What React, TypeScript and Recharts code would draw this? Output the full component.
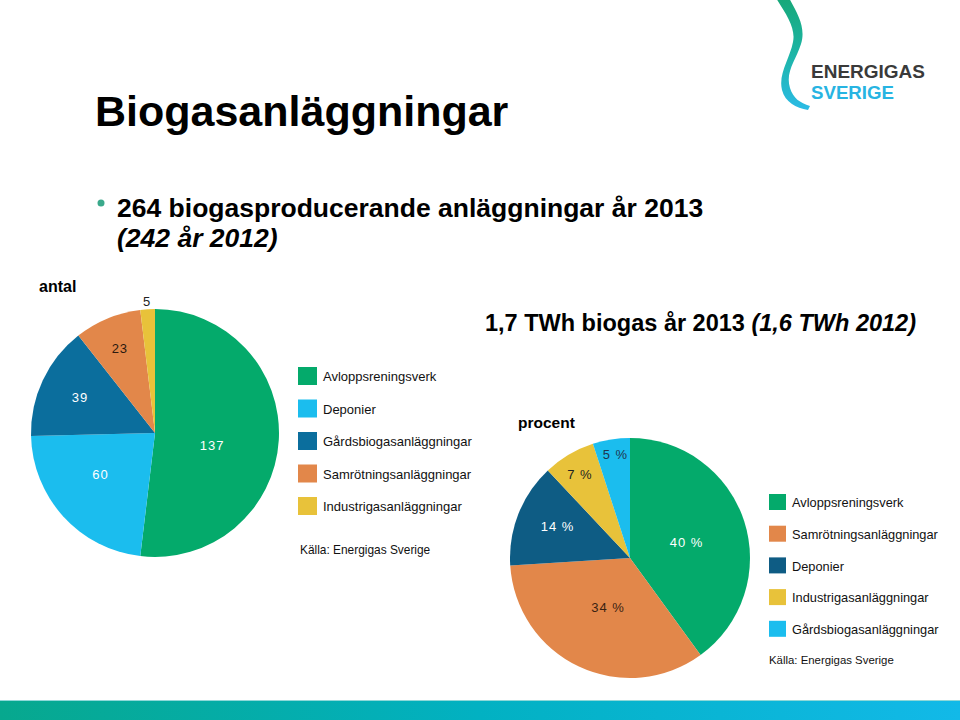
import { PieChart, Pie, Cell } from "recharts"

// antal (number of plants, 2013)
const antalNames = [
  "Avloppsreningsverk",
  "Deponier",
  "Gårdsbiogasanläggningar",
  "Samrötningsanläggningar",
  "Industrigasanläggningar",
]
const antalValues = [137, 60, 39, 23, 5]

// procent (share of produced biogas, 2013)
const procentNames = [
  "Avloppsreningsverk",
  "Samrötningsanläggningar",
  "Deponier",
  "Industrigasanläggningar",
  "Gårdsbiogasanläggningar",
]
const procentValues = [40, 34, 14, 7, 5]

const antalColors = ["#04aa6b", "#1bbdee", "#0b6e9d", "#e2874a", "#e8c23a"]
const procentColors = ["#04aa6b", "#e2874a", "#0e5c84", "#e8c23a", "#1bbdee"]

// label look: [radius factor, angle offset, colour]
const antalLabelStyle: [number, number, string][] = [
  [0.47, -8.5, "#ffffff"],
  [0.55, -5.3, "#ffffff"],
  [0.67, -0.4, "#ffffff"],
  [0.74, 0, "#2b1a10"],
  [1.06, 0, "#222222"],
]
const procentLabelStyle: [number, number, string][] = [
  [0.49, -2.3, "#ffffff"],
  [0.45, 1.2, "#3a2212"],
  [0.66, -2.1, "#ffffff"],
  [0.81, 0.4, "#222222"],
  [0.875, -1, "#1f3550"],
]

const FONT = "'Liberation Sans', Arial, Helvetica, sans-serif"
const RAD = Math.PI / 180

function makeLabel(style: [number, number, string][], suffix: string) {
  return (props: any) => {
    const { cx, cy, midAngle, outerRadius, index, value } = props
    const [f, off, color] = style[index]
    const a = (midAngle + off) * RAD
    const r = outerRadius * f
    const x = cx + r * Math.cos(-a)
    const y = cy + r * Math.sin(-a)
    return (
      <text
        x={x}
        y={y}
        fill={color}
        textAnchor="middle"
        dominantBaseline="central"
        fontFamily={FONT}
        fontSize={13}
        letterSpacing={1}
      >
        {value}
        {suffix}
      </text>
    )
  }
}

function LegendBlock({ names, colors, x, y, step, box, fontSize, sourceY, sourceX, sourceSize }: any) {
  return (
    <g fontFamily={FONT} fill="#111">
      {names.map((n: string, i: number) => (
        <g key={n}>
          <rect x={x} y={y + i * step} width={box} height={box - 1} fill={colors[i]} />
          <text x={x + box + 6} y={y + i * step + box / 2 + fontSize * 0.36} fontSize={fontSize}>
            {n}
          </text>
        </g>
      ))}
      <text x={sourceX} y={sourceY} fontSize={sourceSize}>
        Källa: Energigas Sverige
      </text>
    </g>
  )
}

export default function App() {
  const antalData = antalNames.map((name, i) => ({ name, value: antalValues[i] }))
  const procentData = procentNames.map((name, i) => ({ name, value: procentValues[i] }))

  return (
    <div
      style={{
        position: "absolute",
        left: 0,
        top: 0,
        width: 960,
        height: 720,
        background: "#fff",
        overflow: "hidden",
        fontFamily: FONT,
      }}
    >
      <svg width={960} height={720} style={{ position: "absolute", left: 0, top: 0 }}>
        <defs>
          <linearGradient id="bar" x1="0" y1="0" x2="1" y2="0">
            <stop offset="0" stopColor="#07a88e" />
            <stop offset="0.5" stopColor="#02b1c2" />
            <stop offset="1" stopColor="#12b9e8" />
          </linearGradient>
          <linearGradient id="swoosh" x1="0" y1="0" x2="0" y2="1">
            <stop offset="0" stopColor="#17a878" />
            <stop offset="0.5" stopColor="#1db5a6" />
            <stop offset="1" stopColor="#2bbbe6" />
          </linearGradient>
        </defs>

        {/* logo */}
        <path
          d="M776 -2 L 789 -2 C 798 14, 806 28, 801 44 C 796 60, 785 72, 790 88 C 793 98, 800 103, 810 106 L 808 110 C 796 108, 785 102, 782 90 C 778 74, 790 58, 793 42 C 796 28, 786 14, 776 -2 Z"
          fill="url(#swoosh)"
        />
        <text x={811} y={78} fontFamily={FONT} fontWeight="bold" fontSize={18.5} fill="#3a3a3a" textLength={114} lengthAdjust="spacingAndGlyphs">
          ENERGIGAS
        </text>
        <text x={811} y={99} fontFamily={FONT} fontWeight="bold" fontSize={18.5} fill="#27b4e2" textLength={83} lengthAdjust="spacingAndGlyphs">
          SVERIGE
        </text>

        {/* headings */}
        <text x={95} y={126} fontSize={43} fontWeight="bold" fill="#000">
          Biogasanläggningar
        </text>
        <circle cx={101} cy={203} r={3.5} fill="#3aa98b" />
        <text x={117} y={217} fontSize={26.5} fontWeight="bold" fill="#000">
          264 biogasproducerande anläggningar år 2013
        </text>
        <text x={117} y={247} fontSize={26.5} fontWeight="bold" fontStyle="italic" fill="#000">
          (242 år 2012)
        </text>
        <text x={485} y={331} fontSize={23.5} fontWeight="bold" fill="#000">
          1,7 TWh biogas år 2013 <tspan fontStyle="italic">(1,6 TWh 2012)</tspan>
        </text>

        <text x={39} y={292} fontSize={16} fontWeight="bold" fill="#000">
          antal
        </text>
        <text x={518} y={428} fontSize={15.5} fontWeight="bold" fill="#000">
          procent
        </text>

        <LegendBlock
          names={antalNames}
          colors={antalColors}
          x={298}
          y={367}
          step={32.5}
          box={19}
          fontSize={13}
          sourceX={300}
          sourceY={554}
          sourceSize={11.9}
        />
        <LegendBlock
          names={procentNames}
          colors={procentColors}
          x={769}
          y={494}
          step={31.7}
          box={17}
          fontSize={12.8}
          sourceX={769}
          sourceY={664}
          sourceSize={11.4}
        />

        {/* bottom bar */}
        <rect x={0} y={700} width={960} height={1} fill="#8fd8d8" />
        <rect x={0} y={701} width={960} height={19} fill="url(#bar)" />
      </svg>

      <div style={{ position: "absolute", left: 0, top: 278 }}>
        <PieChart width={300} height={300}>
          <Pie
            data={antalData}
            dataKey="value"
            nameKey="name"
            cx={150}
            cy={150}
            outerRadius={124}
            startAngle={90}
            endAngle={-270}
            stroke="none"
            labelLine={false}
            label={makeLabel(antalLabelStyle, "")}
            isAnimationActive={false}
          >
            {antalData.map((d, i) => (
              <Cell key={d.name} fill={antalColors[i]} />
            ))}
          </Pie>
        </PieChart>
      </div>

      <div style={{ position: "absolute", left: 475, top: 403 }}>
        <PieChart width={300} height={300}>
          <Pie
            data={procentData}
            dataKey="value"
            nameKey="name"
            cx={150}
            cy={150}
            outerRadius={120}
            startAngle={90}
            endAngle={-270}
            stroke="none"
            labelLine={false}
            label={makeLabel(procentLabelStyle, " %")}
            isAnimationActive={false}
          >
            {procentData.map((d, i) => (
              <Cell key={d.name} fill={procentColors[i]} />
            ))}
          </Pie>
        </PieChart>
      </div>
    </div>
  )
}
